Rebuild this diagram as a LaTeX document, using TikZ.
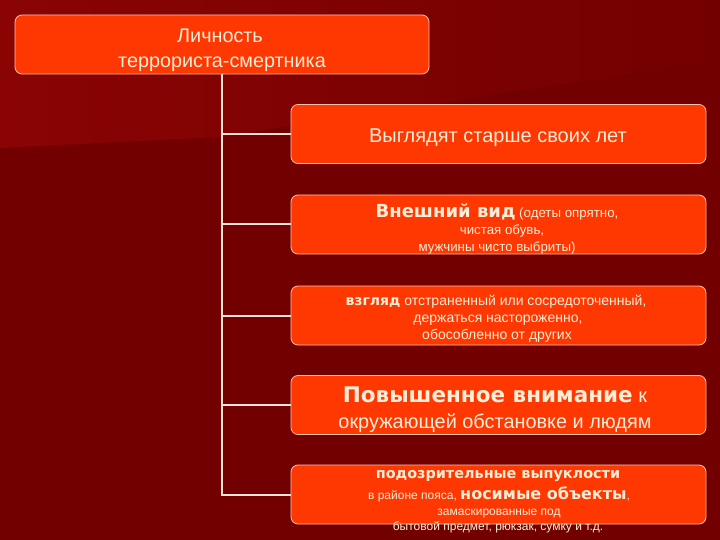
\documentclass[tikz,border=0pt]{standalone}
\usepackage{fontspec}
\setmainfont{Liberation Sans}
\newfontfamily\heavy{DejaVu Sans}
\newcommand\fsz[1]{\fontsize{#1}{#1}\selectfont}
\definecolor{bg}{RGB}{115,0,0}
\definecolor{bglite}{RGB}{138,4,4}
\definecolor{boxfill}{RGB}{255,55,0}
\definecolor{boxline}{RGB}{255,195,165}
\definecolor{txt}{RGB}{255,238,215}
\definecolor{wire}{RGB}{255,225,215}
\begin{document}
\begin{tikzpicture}[x=1pt,y=-1pt,
  box/.style={draw=boxline, line width=0.8pt, fill=boxfill, rounded corners=7pt,
    minimum width=415pt, minimum height=59pt, inner sep=0pt},
  label/.style={text=txt, align=center, inner sep=0pt, anchor=mid},
  wirestyle/.style={draw=wire, line width=2pt}]
\useasboundingbox (0,0) rectangle (720,540);
\fill[bg] (0,0) rectangle (720,540);
\shade[left color=bglite, right color=bg] (0,0) -- (720,0) -- (720,60) -- (220,137) -- (0,148) -- cycle;

\node[box, minimum width=414pt] (top) at (222,44.5) {};
\node[box] (b1) at (498.5,134) {};
\node[box] (b2) at (498.5,224.5) {};
\node[box] (b3) at (498.5,315.5) {};
\node[box] (b4) at (498.5,405) {};
\node[box] (b5) at (498.5,494.5) {};

\coordinate (trunkend) at (top.south |- b5.west);
\draw[wirestyle] (top.south) -- (trunkend) -- (b5.west);
\foreach \b in {b1,b2,b3,b4}{
  \draw[wirestyle] (top.south |- \b.west) -- (\b.west);
}

\node[label, font=\fsz{19.8}] (ttopa) at (220,40) {Личность};
\node[label, font=\fsz{19.8}] (ttopb) at (222,65) {террориста-смертника};

\node[label, font=\fsz{20}] (t1) at (498,140) {Выглядят старше своих лет};

\node[label, font=\fsz{13.3}] (t2a) at (497,215) {{\heavy\bfseries\fsz{18}Внешний вид} (одеты опрятно,};
\node[label, font=\fsz{13.3}] (t2b) at (502,232) {чистая обувь,};
\node[label, font=\fsz{13.3}] (t2c) at (497,249) {мужчины чисто выбриты)};

\node[label, font=\fsz{14}] (t3a) at (496,303) {{\heavy\bfseries\fsz{14}взгляд} отстраненный или сосредоточенный,};
\node[label, font=\fsz{14}] (t3b) at (498,320) {держаться настороженно,};
\node[label, font=\fsz{14}] (t3c) at (497,337) {обособленно от других};

\node[label, font=\fsz{20}] (t4a) at (495,400) {{\heavy\bfseries\fsz{21.5}Повышенное внимание} к};
\node[label, font=\fsz{19.9}] (t4b) at (495,426) {окружающей обстановке и людям};

\node[label, font=\fsz{14.4}] (t5a) at (498,476) {\heavy\bfseries подозрительные выпуклости};
\node[label, font=\fsz{12}] (t5b) at (499,497) {в районе пояса, {\heavy\bfseries\fsz{16}носимые объекты},};
\node[label, font=\fsz{12}] (t5c) at (499,513) {замаскированные под};
\node[label, font=\fsz{12}] (t5d) at (498,528) {бытовой предмет, рюкзак, сумку и т.д.};
\end{tikzpicture}
\end{document}
